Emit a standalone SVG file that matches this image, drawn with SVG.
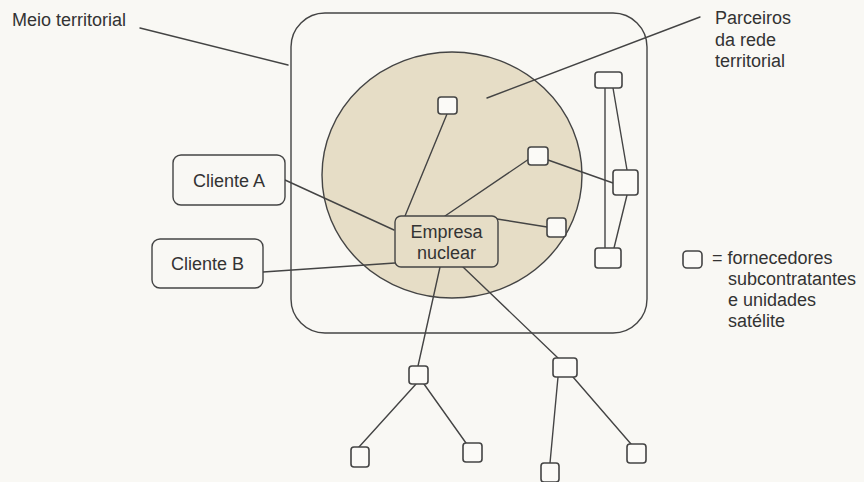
<svg xmlns="http://www.w3.org/2000/svg" width="864" height="482" viewBox="0 0 864 482">
<style>
.ln{fill:none;stroke:#444;stroke-width:1.4;stroke-linecap:round}
.bx{fill:#f9f8f4;stroke:#444;stroke-width:1.4}
.sq{fill:#fbfaf7;stroke:#444;stroke-width:1.6}
.t{font-family:"Liberation Sans",Arial,sans-serif;font-size:18px;fill:#333}
</style>
<rect width="864" height="482" fill="#f9f8f4"/>
<g id="meio">
<rect x="291" y="13" width="356" height="320" rx="34" class="ln"/>
<ellipse cx="452" cy="175" rx="130" ry="123" fill="#e6ddc6" stroke="#444" stroke-width="1.4"/>
</g>
<g id="connectors" class="ln">
<line x1="140" y1="28" x2="288" y2="65"/>
<line x1="487" y1="98" x2="700" y2="17"/>
<line x1="285" y1="180" x2="394" y2="230"/>
<line x1="263" y1="272" x2="395" y2="263"/>
<line x1="447" y1="114" x2="405" y2="216"/>
<line x1="529" y1="159" x2="445" y2="216"/>
<line x1="497" y1="219" x2="547" y2="227"/>
<line x1="548" y1="160" x2="613" y2="183"/>
<line x1="605" y1="88" x2="605" y2="248"/>
<line x1="613" y1="88" x2="627" y2="170"/>
<line x1="627" y1="195" x2="614" y2="248"/>
<line x1="440" y1="267" x2="418" y2="366"/>
<line x1="463" y1="267" x2="558" y2="358"/>
<line x1="416" y1="384" x2="359" y2="447"/>
<line x1="424" y1="384" x2="466" y2="443"/>
<line x1="558" y1="377" x2="550" y2="463"/>
<line x1="573" y1="377" x2="631" y2="444"/>
</g>
<g id="meio-label"><text class="t" x="12" y="26">Meio territorial</text></g>
<g id="parceiros-label">
<text class="t" x="715" y="24">Parceiros</text>
<text class="t" x="715" y="46">da rede</text>
<text class="t" x="715" y="67">territorial</text>
</g>
<g id="cliente-a"><rect x="173" y="155" width="112" height="50" rx="8" class="bx"/><text class="t" x="229" y="187" text-anchor="middle">Cliente A</text></g>
<g id="cliente-b"><rect x="152" y="239" width="111" height="49" rx="8" class="bx"/><text class="t" x="207.5" y="270" text-anchor="middle">Cliente B</text></g>
<g id="empresa"><rect x="395" y="216" width="103" height="51" rx="6" fill="#e6ddc6" stroke="#444" stroke-width="1.4"/>
<text class="t" x="446.5" y="238" text-anchor="middle">Empresa</text>
<text class="t" x="446.5" y="259" text-anchor="middle">nuclear</text></g>
<g id="s1"><rect x="438" y="97" width="19" height="17" rx="3" class="sq"/></g>
<g id="s2"><rect x="528" y="147" width="20" height="18" rx="3" class="sq"/></g>
<g id="s3"><rect x="547" y="218" width="19" height="19" rx="3" class="sq"/></g>
<g id="r1"><rect x="595" y="72" width="27" height="16" rx="3" class="sq"/></g>
<g id="r2"><rect x="613" y="170" width="25" height="25" rx="3" class="sq"/></g>
<g id="r3"><rect x="595" y="248" width="26" height="20" rx="3" class="sq"/></g>
<g id="b1"><rect x="409" y="366" width="19" height="18" rx="3" class="sq"/></g>
<g id="b2"><rect x="553" y="358" width="24" height="19" rx="3" class="sq"/></g>
<g id="b3"><rect x="351" y="447" width="18" height="20" rx="3" class="sq"/></g>
<g id="b4"><rect x="463" y="443" width="19" height="19" rx="3" class="sq"/></g>
<g id="b5"><rect x="541" y="463" width="18" height="19" rx="3" class="sq"/></g>
<g id="b6"><rect x="627" y="444" width="19" height="19" rx="3" class="sq"/></g>
<g id="legend">
<rect x="683" y="251" width="19" height="17" rx="4" class="sq"/>
<text class="t" x="712" y="264">= fornecedores</text>
<text class="t" x="728" y="285">subcontratantes</text>
<text class="t" x="728" y="306">e unidades</text>
<text class="t" x="728" y="327">satélite</text>
</g>
</svg>
